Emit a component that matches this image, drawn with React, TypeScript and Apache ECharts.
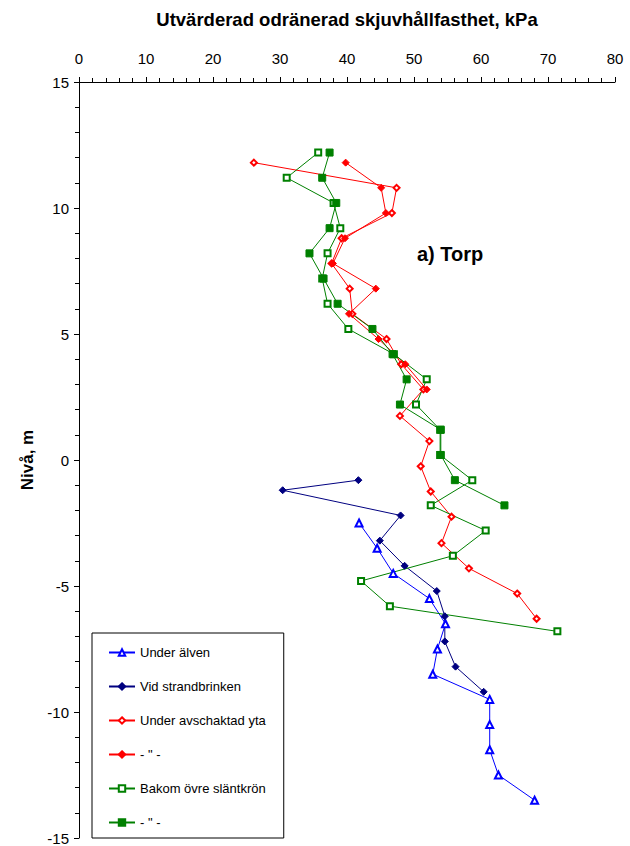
import React, { useEffect, useRef } from "react";
import * as echarts from "echarts";

const FONT = "'Liberation Sans', Arial, sans-serif";

const xTicks = [0, 10, 20, 30, 40, 50, 60, 70, 80];
const yTicks = [-15, -10, -5, 0, 5, 10, 15];

// Under älven (blue, open triangles)
const alvenLevel = [-2.5, -3.5, -4.5, -5.5, -6.5, -7.5, -8.5, -9.5, -10.5, -11.5, -12.5, -13.5];
const alvenValue = [41.8, 44.5, 46.9, 52.3, 54.7, 53.5, 52.8, 61.3, 61.3, 61.3, 62.6, 68.0];

// Vid strandbrinken (navy, filled diamonds)
const strandLevel = [-0.8, -1.2, -2.2, -3.2, -4.2, -5.2, -6.2, -7.2, -8.2, -9.2];
const strandValue = [41.7, 30.4, 48.0, 44.9, 48.6, 53.4, 54.6, 54.6, 56.2, 60.4];

// Under avschaktad yta (red, open diamonds)
const avschLevel = [11.8, 10.8, 9.8, 8.8, 7.8, 6.8, 5.8, 4.8, 3.8, 2.8, 1.75, 0.75, -0.25, -1.25, -2.25, -3.3, -4.3, -5.3, -6.3];
const avschValue = [26.1, 47.4, 46.7, 39.2, 37.7, 40.4, 40.8, 45.9, 48.1, 51.4, 47.9, 52.3, 51.0, 52.5, 55.6, 54.1, 58.2, 65.4, 68.3];

// - " - (red, filled diamonds)
const avsch2Level = [11.8, 10.8, 9.8, 8.8, 7.8, 6.8, 5.8, 4.8, 3.8, 2.8];
const avsch2Value = [39.8, 45.1, 45.8, 39.7, 37.9, 44.3, 40.3, 44.7, 48.7, 51.9];

// Bakom övre släntkrön (green, open squares)
const bakomLevel = [12.2, 11.2, 10.2, 9.2, 8.2, 7.2, 6.2, 5.2, 4.2, 3.2, 2.2, 1.2, 0.2, -0.8, -1.8, -2.8, -3.8, -4.8, -5.8, -6.8];
const bakomValue = [35.7, 31.0, 38.0, 39.0, 37.1, 36.3, 37.1, 40.2, 47.0, 51.9, 50.3, 53.9, 53.9, 58.7, 52.5, 60.7, 55.8, 42.1, 46.4, 71.4];

// - " - (green, filled squares)
const bakom2Level = [12.2, 11.2, 10.2, 9.2, 8.2, 7.2, 6.2, 5.2, 4.2, 3.2, 2.2, 1.2, 0.2, -0.8, -1.8];
const bakom2Value = [37.4, 36.3, 38.4, 37.4, 34.4, 36.5, 38.6, 43.8, 46.8, 48.9, 47.9, 54.0, 54.0, 56.1, 63.5];

const seriesNames = [
  "Under älven",
  "Vid strandbrinken",
  "Under avschaktad yta",
  '- " -',
  "Bakom övre släntkrön",
  '- " - ',
];

function pairs(vals: number[], levels: number[]) {
  return vals.map((v, i) => [v, levels[i]]);
}

export default function App() {
  const ref = useRef<HTMLDivElement>(null);
  useEffect(() => {
    if (!ref.current) return;
    const chart = echarts.init(ref.current, null, { renderer: "svg" });
    const mk = (
      name: string,
      color: string,
      symbol: string,
      size: number,
      data: number[][]
    ) => ({
      name,
      type: "line",
      data,
      symbol,
      symbolSize: size,
      lineStyle: { color, width: 1 },
      itemStyle: { color, borderColor: color, borderWidth: 1 },
      emphasis: { disabled: true },
      z: 3,
    });
    chart.setOption({
      animation: false,
      textStyle: { fontFamily: FONT },
      grid: { left: 79, right: 15, top: 82, bottom: 8 },
      xAxis: {
        type: "value",
        position: "top",
        min: xTicks[0],
        max: xTicks[xTicks.length - 1],
        interval: 10,
        name: "Utvärderad odränerad skjuvhållfasthet, kPa",
        nameLocation: "middle",
        nameGap: 53,
        nameTextStyle: { fontFamily: FONT, fontWeight: "bold", fontSize: 18.5, color: "#000" },
        axisLine: { show: true, onZero: false, lineStyle: { color: "#000", width: 1 } },
        axisTick: { show: true, length: 5, lineStyle: { color: "#000" } },
        minorTick: { show: true, splitNumber: 5, length: 4, lineStyle: { color: "#000" } },
        axisLabel: { fontFamily: FONT, fontSize: 15, color: "#000", margin: 16 },
        splitLine: { show: false },
      },
      yAxis: {
        type: "value",
        min: yTicks[0],
        max: yTicks[yTicks.length - 1],
        interval: 5,
        name: "Nivå, m",
        nameLocation: "middle",
        nameGap: 41,
        nameTextStyle: { fontFamily: FONT, fontWeight: "bold", fontSize: 17, color: "#000" },
        axisLine: { show: true, onZero: false, lineStyle: { color: "#000", width: 1 } },
        axisTick: { show: true, length: 5, lineStyle: { color: "#000" } },
        minorTick: { show: true, splitNumber: 5, length: 4, lineStyle: { color: "#000" } },
        axisLabel: { fontFamily: FONT, fontSize: 15, color: "#000", margin: 10 },
        splitLine: { show: false },
      },
      legend: {
        orient: "vertical",
        left: 92,
        top: 633,
        padding: [12, 18, 8, 16],
        itemWidth: 26,
        itemHeight: 8,
        itemGap: 19,
        borderColor: "#000",
        borderWidth: 1,
        backgroundColor: "#fff",
        data: seriesNames,
        textStyle: { fontFamily: FONT, fontSize: 13, color: "#000", height: 15, lineHeight: 15 },
      },
      graphic: [
        {
          type: "text",
          left: 417,
          top: 244,
          style: { text: "a) Torp", font: "bold 20px " + FONT, fill: "#000" },
        },
      ],
      series: [
        mk(seriesNames[0], "#0000ff", "emptyTriangle", 7, pairs(alvenValue, alvenLevel)),
        mk(seriesNames[1], "#000080", "diamond", 7, pairs(strandValue, strandLevel)),
        mk(seriesNames[2], "#ff0000", "emptyDiamond", 6, pairs(avschValue, avschLevel)),
        mk(seriesNames[3], "#ff0000", "diamond", 7, pairs(avsch2Value, avsch2Level)),
        mk(seriesNames[4], "#008000", "emptyRect", 6, pairs(bakomValue, bakomLevel)),
        mk(seriesNames[5], "#008000", "rect", 7, pairs(bakom2Value, bakom2Level)),
      ],
    });
    return () => chart.dispose();
  }, []);
  return (
    <div
      ref={ref}
      style={{ position: "fixed", left: 0, top: 0, width: 630, height: 846, background: "#fff" }}
    />
  );
}
